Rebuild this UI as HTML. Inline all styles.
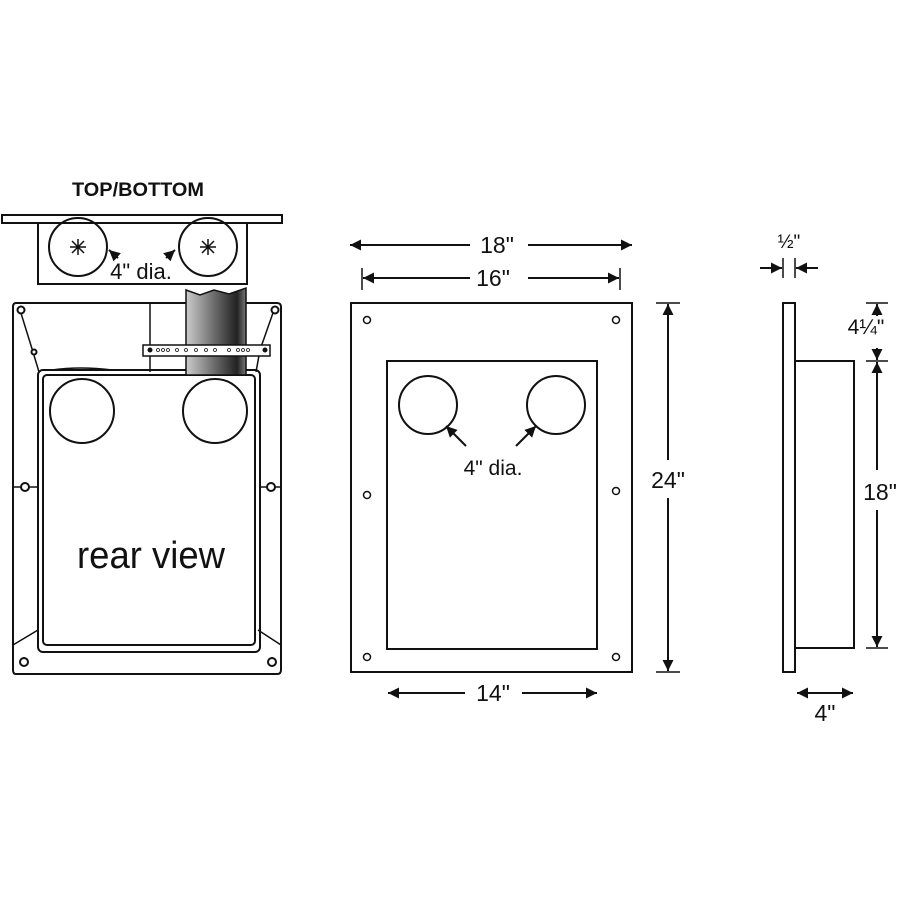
<!DOCTYPE html>
<html><head><style>body{margin:0;background:#fff}svg{display:block}text{font-family:"Liberation Sans","DejaVu Sans",sans-serif;fill:#111}</style></head>
<body>
<svg width="900" height="900" viewBox="0 0 900 900" xmlns="http://www.w3.org/2000/svg">
<defs>
<linearGradient id="g" x1="0" x2="1"><stop offset="0" stop-color="#ccc"/><stop offset="0.5" stop-color="#666"/><stop offset="0.85" stop-color="#222"/><stop offset="1" stop-color="#777"/></linearGradient>
<marker id="a" viewBox="0 0 10 10" refX="10" refY="5" markerWidth="11" markerHeight="11" markerUnits="userSpaceOnUse" orient="auto-start-reverse"><path d="M0,0L10,5L0,10z" fill="#111"/></marker>
</defs>
<g fill="none" stroke="#111" stroke-width="2">
<text x="138" y="196" style="font-weight:bold;font-size:19px" text-anchor="middle" stroke="none" textLength="132" lengthAdjust="spacingAndGlyphs">TOP/BOTTOM</text>
<rect x="2" y="215" width="280" height="8"/>
<rect x="38" y="223" width="209" height="61"/>
<circle cx="78" cy="247" r="29"/><circle cx="208" cy="247" r="29"/>
<path d="M70,247h16M78,239v16M72,241l12,12M84,241l-12,12M200,247h16M208,239v16M202,241l12,12M214,241l-12,12" stroke-width="1.5"/>
<path d="M118,258l-9,-8" marker-end="url(#a)"/><path d="M166,258l9,-8" marker-end="url(#a)"/>
<text x="141" y="279" style="font-size:22px" text-anchor="middle" stroke="none">4" dia.</text>
<path d="M16,303H277Q281,303 281,307V670Q281,674 277,674H16Q13,674 13,670V307Q13,303 16,303z"/>
<path d="M20,310L33,352L39,372M274,310L260,350L256,372" stroke-width="1.5"/>
<line x1="150" y1="303" x2="150" y2="372" stroke-width="1.5"/>
<rect x="38" y="370" width="222" height="282" rx="5"/>
<rect x="43" y="375" width="212" height="270" rx="4"/>
<path d="M13,487H38M260,487H281M13,645L38,630M281,645L258,630" stroke-width="1.5"/>
<circle cx="21" cy="310" r="3.5" fill="#fff"/><circle cx="275" cy="310" r="3.5" fill="#fff"/><circle cx="34" cy="352" r="2.5" fill="#fff"/>
<circle cx="25" cy="487" r="4" fill="#fff"/><circle cx="271" cy="487" r="4" fill="#fff"/>
<circle cx="24" cy="662" r="4" fill="#fff"/><circle cx="272" cy="662" r="4" fill="#fff"/>
<circle cx="82" cy="411" r="32"/><circle cx="215" cy="411" r="32"/>
<path d="M52,370Q80,366 112,370" stroke-width="1.5"/>
<path d="M186,290L200,295L214,290L229,294L246,288V375H186z" fill="url(#g)" stroke-width="1.5"/>
<rect x="143" y="345" width="127" height="11" fill="#fff" stroke-width="1.5"/>
<g fill="#fff" stroke-width="0.8"><circle cx="158" cy="350" r="1.5"/><circle cx="163" cy="350" r="1.5"/><circle cx="168" cy="350" r="1.5"/><circle cx="177" cy="350" r="1.5"/><circle cx="186" cy="350" r="1.5"/><circle cx="196" cy="350" r="1.5"/><circle cx="206" cy="350" r="1.5"/><circle cx="215" cy="350" r="1.5"/><circle cx="229" cy="350" r="1.5"/><circle cx="238" cy="350" r="1.5"/><circle cx="243" cy="350" r="1.5"/><circle cx="248" cy="350" r="1.5"/></g>
<circle cx="150" cy="350" r="1.5" fill="#111"/><circle cx="265" cy="350" r="1.5" fill="#111"/>
<text x="151" y="568" style="font-size:38px" text-anchor="middle" stroke="none" textLength="148" lengthAdjust="spacingAndGlyphs">rear view</text>
<rect x="351" y="303" width="281" height="369"/>
<rect x="387" y="361" width="210" height="288"/>
<circle cx="428" cy="405" r="29"/><circle cx="556" cy="405" r="29"/>
<g stroke-width="1.5" fill="#fff"><circle cx="367" cy="320" r="3.5"/><circle cx="616" cy="320" r="3.5"/><circle cx="367" cy="495" r="3.5"/><circle cx="616" cy="491" r="3.5"/><circle cx="367" cy="657" r="3.5"/><circle cx="616" cy="657" r="3.5"/></g>
<path d="M466,446l-20,-20" marker-end="url(#a)"/><path d="M516,446l20,-20" marker-end="url(#a)"/>
<text x="493" y="475" style="font-size:21px" text-anchor="middle" stroke="none">4" dia.</text>
<path d="M470,245H350" marker-end="url(#a)"/><path d="M528,245H632" marker-end="url(#a)"/>
<text x="497" y="253" style="font-size:23px" text-anchor="middle" stroke="none">18"</text>
<path d="M470,278H363" marker-end="url(#a)"/><path d="M528,278H619" marker-end="url(#a)"/>
<path d="M362,268V290M620,268V290" stroke-width="1.5"/>
<text x="493" y="286" style="font-size:23px" text-anchor="middle" stroke="none">16"</text>
<path d="M668,460V304" marker-end="url(#a)"/><path d="M668,498V671" marker-end="url(#a)"/>
<path d="M656,303H680M656,672H680" stroke-width="1.5"/>
<text x="668" y="488" style="font-size:23px" text-anchor="middle" stroke="none">24"</text>
<path d="M465,693H388" marker-end="url(#a)"/><path d="M522,693H597" marker-end="url(#a)"/>
<text x="493" y="701" style="font-size:23px" text-anchor="middle" stroke="none">14"</text>
<rect x="783" y="303" width="12" height="369"/>
<rect x="795" y="361" width="59" height="287"/>
<text x="789" y="248" style="font-size:19px" text-anchor="middle" stroke="none">½"</text>
<path d="M783,258V278M795,258V278" stroke-width="1.5"/>
<path d="M760,268H782" marker-end="url(#a)"/><path d="M818,268H796" marker-end="url(#a)"/>
<path d="M866,303H888M866,361H888M866,648H888" stroke-width="1.5"/>
<path d="M877,316V304" marker-end="url(#a)"/><path d="M877,348V360" marker-end="url(#a)"/>
<text x="866" y="334" style="font-size:21px" text-anchor="middle" stroke="none">4¼"</text>
<path d="M877,470V362" marker-end="url(#a)"/><path d="M877,510V647" marker-end="url(#a)"/>
<text x="880" y="500" style="font-size:23px" text-anchor="middle" stroke="none">18"</text>
<path d="M825,693H797" marker-end="url(#a)"/><path d="M825,693H853" marker-end="url(#a)"/>
<text x="825" y="721" style="font-size:23px" text-anchor="middle" stroke="none">4"</text>
</g>
</svg>
</body></html>
